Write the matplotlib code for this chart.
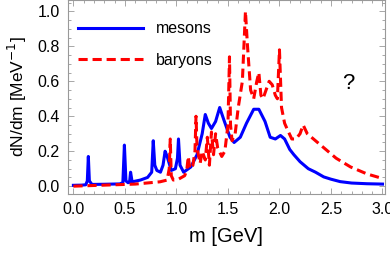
import numpy as np
import matplotlib.pyplot as plt
from matplotlib.ticker import MultipleLocator

plt.rcParams['font.family'] = ['Liberation Sans', 'DejaVu Sans']

# mesons (m in GeV, dN/dm)
m_mes = [0.0, 0.08, 0.12, 0.135, 0.145, 0.155, 0.18, 0.3, 0.45, 0.48, 0.495, 0.51, 0.53,
         0.545, 0.555, 0.57, 0.65, 0.72, 0.76, 0.775, 0.79, 0.81, 0.845, 0.87, 0.89,
         0.91, 0.95, 0.99, 1.01, 1.02, 1.035, 1.07, 1.14, 1.2, 1.25, 1.28, 1.31, 1.34,
         1.38, 1.42, 1.46, 1.52, 1.56, 1.62, 1.68, 1.75, 1.8, 1.86, 1.91, 1.96, 2.01,
         2.05, 2.1, 2.14, 2.2, 2.28, 2.35, 2.43, 2.5, 2.59, 2.7, 2.85, 3.0]
v_mes = [0.005, 0.006, 0.008, 0.03, 0.17, 0.03, 0.01, 0.011, 0.013, 0.02, 0.235, 0.03, 0.02,
         0.022, 0.08, 0.025, 0.035, 0.05, 0.08, 0.26, 0.12, 0.09, 0.08, 0.12, 0.2,
         0.17, 0.09, 0.1, 0.16, 0.27, 0.12, 0.08, 0.11, 0.18, 0.3, 0.41, 0.36, 0.33,
         0.37, 0.45, 0.38, 0.28, 0.25, 0.28, 0.36, 0.44, 0.44, 0.37, 0.28, 0.27, 0.29,
         0.27, 0.21, 0.18, 0.14, 0.1, 0.08, 0.053, 0.04, 0.026, 0.018, 0.014, 0.012]

# baryons
m_bar = [0.0, 0.3, 0.6, 0.84, 0.91, 0.93, 0.94, 0.95, 0.97, 1.02, 1.08, 1.1, 1.115, 1.13,
         1.16, 1.18, 1.19, 1.2, 1.23, 1.25, 1.28, 1.3, 1.32, 1.34, 1.36, 1.38, 1.4,
         1.44, 1.47, 1.5, 1.515, 1.525, 1.54, 1.57, 1.6, 1.64, 1.67, 1.69, 1.72, 1.75,
         1.78, 1.8, 1.82, 1.84, 1.87, 1.9, 1.93, 1.96, 1.98, 2.0, 2.02, 2.05, 2.08,
         2.12, 2.16, 2.2, 2.23, 2.27, 2.35, 2.43, 2.55, 2.69, 2.85, 3.0]
v_bar = [0.0, 0.006, 0.012, 0.025, 0.035, 0.1, 0.27, 0.06, 0.035, 0.04, 0.06, 0.09, 0.17, 0.1,
         0.12, 0.2, 0.4, 0.22, 0.13, 0.2, 0.15, 0.28, 0.12, 0.31, 0.18, 0.3, 0.22,
         0.17, 0.2, 0.35, 0.74, 0.35, 0.26, 0.3, 0.45, 0.6, 1.0, 0.8, 0.55, 0.5,
         0.6, 0.65, 0.52, 0.5, 0.55, 0.6, 0.58, 0.52, 0.5, 0.78, 0.45, 0.36, 0.32,
         0.27, 0.27, 0.3, 0.35, 0.3, 0.26, 0.22, 0.16, 0.11, 0.07, 0.044]

fig = plt.figure(figsize=(3.9, 2.56), dpi=100)
ax = fig.add_axes([0.175, 0.242, 0.811, 0.758])

ax.plot(m_mes, v_mes, c='#0000ff', lw=2.2, label='mesons')
ax.plot(m_bar, v_bar, c='#ff0000', lw=2.2, ls=(0, (3, 1.6)), label='baryons')

ax.set_xlim(-0.05, 3.02)
ax.set_ylim(-0.045, 1.065)
ax.xaxis.set_major_locator(MultipleLocator(0.5))
ax.xaxis.set_minor_locator(MultipleLocator(0.1))
ax.yaxis.set_major_locator(MultipleLocator(0.2))
ax.yaxis.set_minor_locator(MultipleLocator(0.05))
ax.xaxis.set_major_formatter(lambda v, p: f'{v:.1f}')
ax.yaxis.set_major_formatter(lambda v, p: f'{v:.1f}')
ax.tick_params(which='both', direction='in', top=True, right=True, color='#999999',
               labelsize=11.5, width=0.6)
ax.tick_params(which='major', length=4, pad=6)
ax.tick_params(which='minor', length=2)
for s in ax.spines.values():
    s.set_color('#999999')
    s.set_linewidth(0.8)

ax.set_xlabel('m [GeV]', fontsize=14.5, labelpad=7)
ax.set_ylabel('dN/dm [MeV$^{-1}$]', fontsize=12.5, labelpad=6)
ax.text(2.67, 0.59, '?', fontsize=16, ha='center', va='center')
ax.legend(loc='upper left', frameon=False, fontsize=11.5, handlelength=4.1,
          handletextpad=0.8, labelspacing=1.05, bbox_to_anchor=(-0.015, 0.965))

fig.savefig('out.png', dpi=100)
